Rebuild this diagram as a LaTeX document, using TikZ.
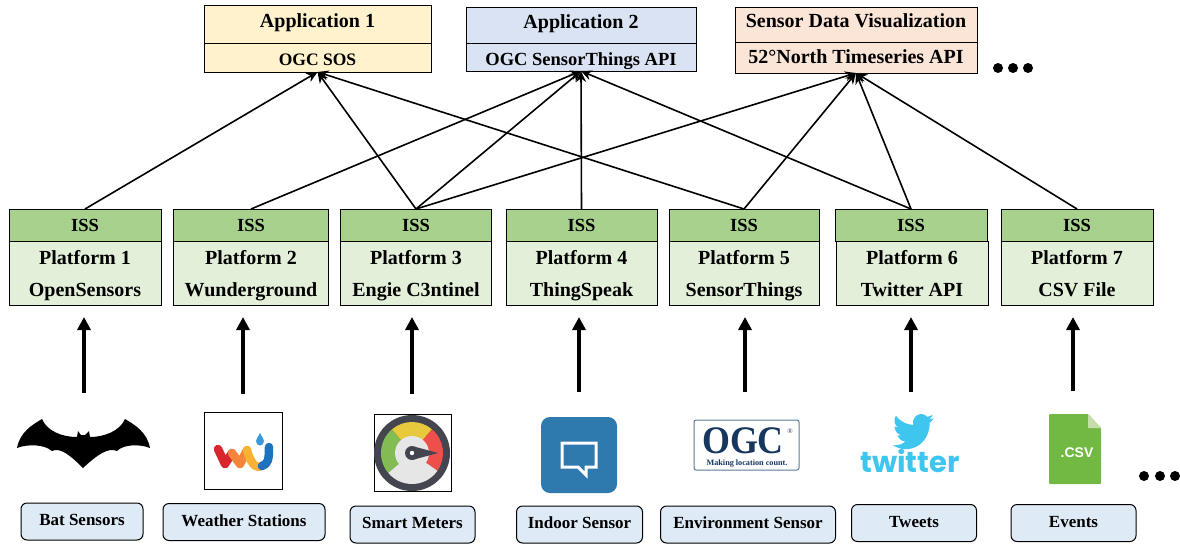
\documentclass[tikz,border=0pt]{standalone}
\usepackage{fontspec}
\setmainfont{Liberation Serif}
\usetikzlibrary{positioning,arrows.meta}
\definecolor{appyellow}{HTML}{FFF2CC}
\definecolor{appblue}{HTML}{DAE3F3}
\definecolor{apporange}{HTML}{FBE5D6}
\definecolor{issgreen}{HTML}{A9D18E}
\definecolor{platgreen}{HTML}{E2F0D9}
\definecolor{srcblue}{HTML}{DEEAF6}
\definecolor{twitblue}{HTML}{3EC6EE}
\definecolor{gaugedark}{HTML}{44464F}
\definecolor{gaugegreen}{HTML}{82BC52}
\definecolor{gaugeyellow}{HTML}{E9C93C}
\definecolor{gaugered}{HTML}{EE4F4B}
\definecolor{gaugegrey}{HTML}{E6E6E6}
\definecolor{wured}{HTML}{D9262E}
\definecolor{wuorange}{HTML}{F5853A}
\definecolor{wuyellow}{HTML}{F9B233}
\definecolor{wublue}{HTML}{1E73BE}
\definecolor{wudrop}{HTML}{3A9AD9}
\definecolor{bubbleblue}{HTML}{2E79AE}
\definecolor{ogcnavy}{HTML}{17375E}
\definecolor{ogcedge}{HTML}{5A7A9A}
\definecolor{csvgreen}{HTML}{72B944}
\definecolor{csvfold}{HTML}{C5DFA8}

\begin{document}
\begin{tikzpicture}[x=1pt, y=-1pt, node distance=0pt,
	box/.style = {draw, line width=1pt, outer sep=0pt, inner sep=0pt, align=center, font=\fontsize{20}{32}\selectfont\bfseries},
	app box/.style = {box, text height=14pt, text depth=8pt},
	api box/.style = {box, text height=16pt, text depth=0pt},
	iss box/.style = {box, fill=issgreen, minimum height=32pt, font=\fontsize{18.5}{32}\selectfont\bfseries},
	plat box/.style = {box, fill=platgreen, minimum height=64pt, text height=47pt, text depth=0pt},
	src box/.style = {draw, line width=1pt, rounded corners=6pt, fill=srcblue, outer sep=0pt, minimum height=37pt, text height=12pt, text depth=4pt, font=\fontsize{17}{18}\selectfont\bfseries},
	link/.style = {-{Stealth[length=11pt,width=10pt]}, line width=1.6pt},
	flow/.style = {-{Triangle[length=13pt,width=13pt]}, line width=3.5pt, shorten >=12pt},
	more dot/.style = {circle, fill=black, inner sep=0pt, minimum size=10pt},
	wu line/.style = {line width=8.5pt, line cap=round, line join=round}]
\useasboundingbox (0,0) rectangle (1180,552);

% applications
\node[app box, fill=appyellow, minimum width=227pt, minimum height=38pt] at (317.5,24) (app 1)  {Application 1};
\node[api box, fill=appyellow, minimum width=227pt, minimum height=29pt, below=of app 1, font=\fontsize{17.5}{32}\selectfont\bfseries] (sos) {OGC SOS};
\node[app box, fill=appblue, minimum width=230pt, minimum height=36pt] at (581,25)   (app 2)  {Application 2};
\node[api box, fill=appblue, minimum width=230pt, minimum height=28pt, below=of app 2, font=\fontsize{18.5}{32}\selectfont\bfseries] (sta) {OGC SensorThings API};
\node[app box, fill=apporange, minimum width=242pt, minimum height=35pt] at (856,24.5) (app 3)  {Sensor Data Visualization};
\node[box, fill=apporange, minimum width=242pt, minimum height=31pt, text height=14pt, text depth=2pt, below=of app 3] (nts) {52°North Timeseries API};

% platforms
\node[iss box, minimum width=152pt] at (85,225)   (iss 1) {ISS};
\node[iss box, minimum width=155pt] at (251,225)  (iss 2) {ISS};
\node[iss box, minimum width=151pt] at (416,225)  (iss 3) {ISS};
\node[iss box, minimum width=151pt] at (581.5,225) (iss 4) {ISS};
\node[iss box, minimum width=150pt] at (744,225)  (iss 5) {ISS};
\node[iss box, minimum width=152pt] at (911,225)  (iss 6) {ISS};
\node[iss box, minimum width=152pt] at (1077,225) (iss 7) {ISS};
\node[plat box, minimum width=152pt, below=of iss 1] (plat 1) {Platform 1\\OpenSensors};
\node[plat box, minimum width=155pt, below=of iss 2] (plat 2) {Platform 2\\Wunderground};
\node[plat box, minimum width=151pt, below=of iss 3] (plat 3) {Platform 3\\Engie C3ntinel};
\node[plat box, minimum width=151pt, below=of iss 4] (plat 4) {Platform 4\\ThingSpeak};
\node[plat box, minimum width=150pt, below=of iss 5] (plat 5) {Platform 5\\SensorThings};
\node[plat box, minimum width=152pt, below=of iss 6, xshift=1pt] (plat 6) {Platform 6\\Twitter API};
\node[plat box, minimum width=152pt, below=of iss 7] (plat 7) {Platform 7\\CSV File};

% sources
\node[src box, minimum width=122pt] at (82,521.5)  (src 1) {Bat Sensors};
\node[src box, minimum width=162pt] at (244,522)   (src 2) {Weather Stations};
\node[src box, minimum width=125pt] at (412.5,524.5) (src 3) {Smart Meters};
\node[src box, minimum width=126pt] at (579.5,524.5) (src 4) {Indoor Sensor};
\node[src box, minimum width=175pt] at (748,524.5) (src 5) {Environment Sensor};
\node[src box, minimum width=125pt] at (914,523)   (src 6) {Tweets};
\node[src box, minimum width=125pt] at (1073.5,523) (src 7) {Events};

\coordinate (up 1) at (84,393);
\coordinate (up 2) at (243,394);
\coordinate (up 3) at (412,394);
\coordinate (up 4) at (579,392);
\coordinate (up 5) at (745,392);
\coordinate (up 6) at (911,392);
\coordinate (up 7) at (1073,391);

\foreach \i in {1,...,7}
	\draw[flow] (up \i) -- (up \i |- plat \i.south);

\draw[link] (iss 1.north) -- (sos.south);
\draw[link] (iss 3.north) -- (sos.south);
\draw[link] (iss 5.north) -- (sos.south);
\draw[link] (iss 2.north) -- (sta.south);
\draw[link] (iss 3.north) -- (sta.south);
\draw[link] (iss 4.north) -- (sta.south);
\draw[link] (iss 6.north) -- (sta.south);
\draw[link] (iss 3.north) -- (nts.south);
\draw[link] (iss 5.north) -- (nts.south);
\draw[link] (iss 6.north) -- (nts.south);
\draw[link] (iss 7.north) -- (nts.south);

\node[more dot] at (998,68)  (top dot 1) {};
\node[more dot] at (1013,68) (top dot 2) {};
\node[more dot] at (1028,68) (top dot 3) {};
\node[more dot] at (1144,476) (low dot 1) {};
\node[more dot] at (1160,476) (low dot 2) {};
\node[more dot] at (1175,476) (low dot 3) {};

% bat
\fill[black] (17,448) .. controls (20,432) and (32,425) .. (42,419) .. controls (47,431) and (62,437) .. (77,437) -- (78,431) -- (81,435) -- (85,435) -- (89,431) -- (90,437) .. controls (104,437) and (120,431) .. (125,419) .. controls (135,425) and (147,432) .. (150,448) .. controls (140,444) and (124,444) .. (117,451) .. controls (108,447) and (97,455) .. (83,468) .. controls (70,455) and (60,447) .. (52,451) .. controls (44,444) and (27,444) .. (17,448) -- cycle;

% wunderground
\draw[line width=1pt] (204,412) rectangle (282,489);
\draw[wu line, wured] (218,449) -- (225,464) -- (232,453);
\draw[wu line, wuorange] (232,453) -- (240,464) -- (247,450);
\draw[wu line, wuyellow] (247,450) .. controls (252,468) and (258,468) .. (262,466);
\draw[wu line, wublue] (262,466) .. controls (268,464) and (269,460) .. (269,447);
\fill[wudrop] (260,433) .. controls (258,437) and (256,439) .. (256,441) .. controls (256,447) and (264,447) .. (264,441) .. controls (264,439) and (262,437) .. (260,433) -- cycle;

% gauge
\draw[line width=1pt] (374,414) rectangle (451,491);
\fill[gaugedark] (412,453) circle[radius=38];
\begin{scope}[shift={(412,453)}, y=1pt]
\fill[gaugegreen] (0,0) -- (130:31) arc[start angle=130, end angle=220, radius=31] -- cycle;
\fill[gaugeyellow] (0,0) -- (50:31) arc[start angle=50, end angle=130, radius=31] -- cycle;
\fill[gaugered] (0,0) -- (-35:31) arc[start angle=-35, end angle=50, radius=31] -- cycle;
\fill[gaugegrey] (0,0) -- (-140:31) arc[start angle=-140, end angle=-35, radius=31] -- cycle;
\fill[gaugegrey] (0,0) circle[radius=17];
\fill[gaugedark] (0,0) circle[radius=7];
\fill[gaugedark] (2,6.5) -- (26,0) -- (2,-6.5) -- cycle;
\fill[white] (0,0) circle[radius=2.2];
\end{scope}

% speech bubble
\fill[bubbleblue, rounded corners=9pt] (541,417) rectangle (617,493);
\draw[white, line width=3pt] (562,443) -- (596,443) -- (596,467) -- (586,467) -- (586,475) -- (578,467) -- (562,467) -- cycle;

% ogc
\draw[ogcedge, line width=1pt, rounded corners=2pt] (694,420) rectangle (799,470);
\node[ogcnavy, inner sep=0pt, xscale=0.92, font=\fontsize{39}{39}\selectfont\bfseries] at (743,441) (ogc) {OGC};
\node[ogcnavy, inner sep=0pt, font=\fontsize{8.2}{9}\selectfont\bfseries] at (747,463.5) (ogc line) {Making location count.};
\node[ogcnavy, inner sep=0pt, font=\fontsize{7}{7}\selectfont] at (790,431) (ogc mark) {®};

% twitter
\begin{scope}[shift={(893,410)}, x=1.7pt, y=-1.8pt]
\fill[twitblue] (23.95,4.57) .. controls (23,5) .. (21.13,5.35) .. controls (22.2,4.7) and (23,3.7) .. (23.29,2.62) .. controls (22.34,3.18) and (21.29,3.58) .. (20.16,3.81) .. controls (17,0.5) and (11,2.8) .. (11.78,8.29) .. controls (7.69,8.1) and (4.07,6.13) .. (1.64,3.16) .. controls (0,6) and (1,8.5) .. (3.16,9.73) .. controls (2.4,9.7) and (1.6,9.5) .. (0.93,9.12) -- (0.93,9.18) .. controls (1,11.6) and (2.6,13.5) .. (4.88,14) .. controls (4.15,14.2) and (3.4,14.2) .. (2.67,14.09) .. controls (3.3,16) and (5.1,17.4) .. (7.27,17.51) .. controls (5.6,18.9) and (3.4,19.6) .. (1.17,19.61) .. controls (0.78,19.61) and (0.39,19.59) .. (0,19.54) .. controls (2.2,21) and (4.8,21.75) .. (7.56,21.75) .. controls (16.6,21.75) and (21.56,14.25) .. (21.56,7.77) .. controls (21.56,7.56) and (21.56,7.35) .. (21.54,7.14) .. controls (22.5,6.45) and (23.3,5.6) .. (23.95,4.57) -- cycle;
\end{scope}
\node[twitblue, inner sep=0pt, font=\fontsize{29}{29}\selectfont\fontspec{Poppins}\bfseries] at (910,461) (twitter) {twitter};

% csv file
\fill[csvgreen, rounded corners=1pt] (1049,414) -- (1088,414) -- (1101,428) -- (1101,484) -- (1049,484) -- cycle;
\fill[csvfold] (1088,414) -- (1101,428) -- (1088,428) -- cycle;
\node[white, inner sep=0pt, font=\fontsize{14}{14}\selectfont\fontspec{Liberation Sans}\bfseries] at (1077,453) (csv) {.CSV};
\end{tikzpicture}
\end{document}
